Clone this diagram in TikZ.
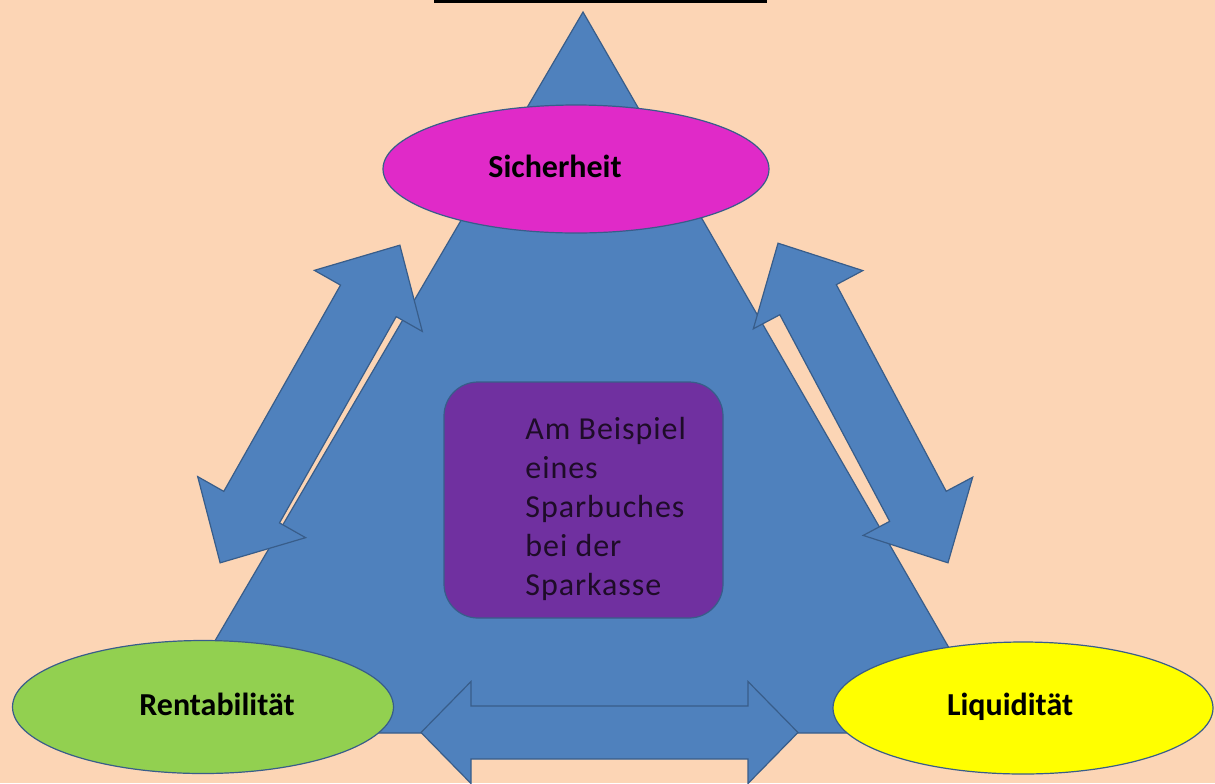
\documentclass[tikz,border=0pt]{standalone}
\usepackage{fontspec}
\setmainfont{Carlito}
\newfontfamily\spacedfont[LetterSpace=3]{Carlito}
\usetikzlibrary{shapes.geometric}
\definecolor{bg}{RGB}{252,213,181}
\definecolor{tri}{RGB}{79,129,189}
\definecolor{edge}{RGB}{56,93,138}
\definecolor{mag}{RGB}{224,42,200}
\definecolor{grn}{RGB}{146,208,80}
\definecolor{ylw}{RGB}{255,255,0}
\definecolor{purp}{RGB}{112,48,160}
\definecolor{ink}{RGB}{30,12,40}
\newcommand{\blockdbl}[7]{% cx, cy, angle, halflength, shaft half, head half, head length
  \draw[blockarrow, shift={(#1,#2)}, rotate=#3]
    (-#4,0) -- (-#4+#7,#6) -- (-#4+#7,#5) -- (#4-#7,#5) -- (#4-#7,#6) -- (#4,0)
    -- (#4-#7,-#6) -- (#4-#7,-#5) -- (-#4+#7,-#5) -- (-#4+#7,-#6) -- cycle;}
\begin{document}
\begin{tikzpicture}[x=0.5pt,y=0.5pt,
  blockarrow/.style={fill=tri, draw=edge, line width=0.6pt, line join=miter},
  oval/.style={ellipse, draw=edge, line width=0.6pt, inner sep=0pt},
  lbl/.style={font=\fontsize{16}{19.5}\selectfont\bfseries, text=black, inner sep=0pt, anchor=base},
  centerbox/.style={rectangle, rounded corners=17pt, draw=edge, line width=0.6pt, fill=purp, inner sep=0pt},
  boxtext/.style={font=\spacedfont\fontsize{16}{19.5}\selectfont, text=ink, align=left, inner sep=0pt}]
\useasboundingbox (0,0) rectangle (1215,-783);
\fill[bg] (0,0) rectangle (1215,-783);
\fill[black] (434,0) rectangle (767,-3);
% triangle
\coordinate (apex) at (583,-12);
\coordinate (bl) at (161,-733);
\coordinate (br) at (998,-733);
\draw[fill=tri, draw=edge, line width=0.6pt] (apex) -- (br) -- (bl) -- cycle;
% block arrows
\blockdbl{310}{-404}{60.5}{182.5}{32}{62}{64}
\blockdbl{863}{-403}{118}{181}{32}{62}{64}
\blockdbl{609.5}{-732.5}{0}{188.5}{26.5}{51}{50}
% ellipses
\node[oval, fill=mag, minimum width=193pt, minimum height=64pt] (sich) at (576,-169) {};
\node[lbl] (sicht) at (555,-177) {Sicherheit};
\node[oval, fill=grn, minimum width=190.5pt, minimum height=66.5pt] (rent) at (203,-707) {};
\node[lbl] (rentt) at (217,-715) {Rentabilität};
\node[oval, fill=ylw, minimum width=190pt, minimum height=66pt] (liq) at (1023,-708) {};
\node[lbl] (liqt) at (1010,-715) {Liquidität};
% center box
\node[centerbox, minimum width=139.5pt, minimum height=118pt] (box) at (583.5,-500) {};
\node[boxtext, anchor=west] (boxt) at (525,-509) {Am Beispiel\\eines\\Sparbuches\\bei der\\Sparkasse};
\end{tikzpicture}
\end{document}
